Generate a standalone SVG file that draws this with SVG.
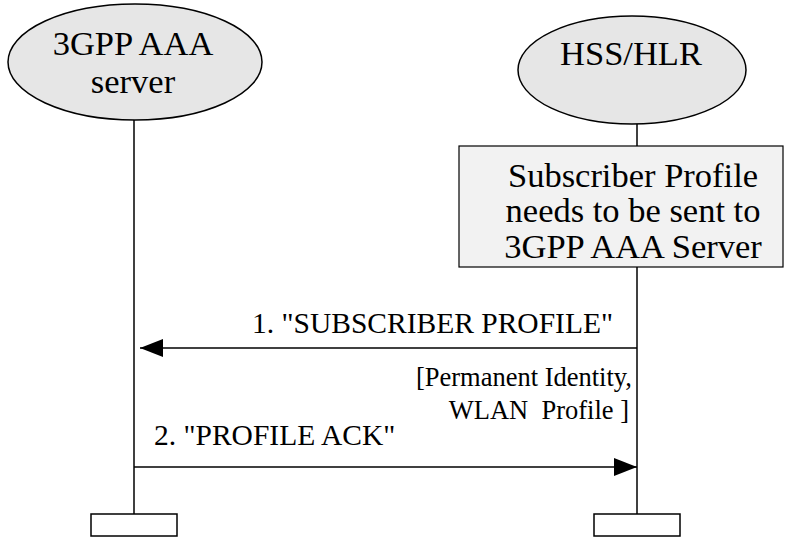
<svg xmlns="http://www.w3.org/2000/svg" width="798" height="537" viewBox="0 0 798 537">
<style>
.ent{fill:#e6e6e6;stroke:#000;stroke-width:1.5}
.box{fill:#f2f2f2;stroke:#000;stroke-width:1.2}
.life{stroke:#000;stroke-width:1.5;fill:none}
.end{fill:#fff;stroke:#000;stroke-width:1.5}
.t{font-family:"Liberation Serif","Times New Roman",serif;fill:#000}
.big{font-size:34.5px;text-anchor:middle}
.msg{font-size:29.5px}
.par{font-size:26.5px;text-anchor:end;white-space:pre}
.arr{stroke:#000;stroke-width:1.5;fill:none}
</style>
<defs>
<marker id="ah" markerWidth="23" markerHeight="18" refX="23" refY="9" orient="auto" markerUnits="userSpaceOnUse">
<path d="M0,0 L23,9 L0,18 Z" fill="#000"/>
</marker>
</defs>
<g id="lifelines">
<line class="life" x1="134" y1="120" x2="134" y2="514"/>
<line class="life" x1="637" y1="124" x2="637" y2="146"/>
<line class="life" x1="637" y1="267" x2="637" y2="514"/>
<rect class="end" x="91" y="514" width="86" height="22"/>
<rect class="end" x="594" y="514" width="86" height="22"/>
</g>
<g id="aaa">
<ellipse class="ent" cx="135" cy="62" rx="127" ry="58"/>
<text class="t big" x="133" y="55">3GPP AAA</text>
<text class="t big" x="133" y="93">server</text>
</g>
<g id="hss">
<ellipse class="ent" cx="632" cy="70" rx="114" ry="54"/>
<text class="t big" x="631" y="65">HSS/HLR</text>
</g>
<g id="note">
<rect class="box" x="459" y="146" width="324" height="121"/>
<text class="t big" x="633" y="187">Subscriber Profile</text>
<text class="t big" x="633" y="222">needs to be sent to</text>
<text class="t big" x="633" y="258">3GPP AAA Server</text>
</g>
<g id="connectors">
<line class="arr" x1="637" y1="348" x2="140" y2="348" marker-end="url(#ah)"/>
<text class="t msg" x="613" y="333" text-anchor="end">1. "SUBSCRIBER PROFILE"</text>
<text class="t par" x="632" y="386">[Permanent Identity,</text>
<text class="t par" x="629" y="419">WLAN  Profile ]</text>
<line class="arr" x1="134" y1="467" x2="637" y2="467" marker-end="url(#ah)"/>
<text class="t msg" x="154" y="445">2. "PROFILE ACK"</text>
</g>
</svg>
